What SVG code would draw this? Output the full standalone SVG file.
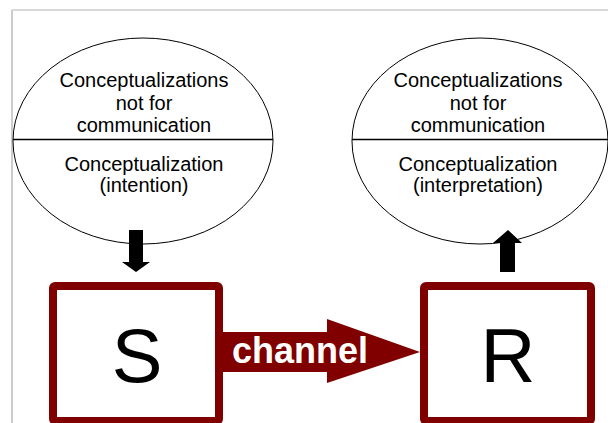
<svg xmlns="http://www.w3.org/2000/svg" width="608" height="423" viewBox="0 0 608 423">
<style>
.frame{stroke:#cccccc;fill:none}
.ell{fill:#ffffff;stroke:#000000;stroke-width:1}
.div{stroke:#000000;stroke-width:1.3}
.t{font-family:"Liberation Sans",Arial,Helvetica,sans-serif;font-size:20px;fill:#000000;text-anchor:middle}
.box{fill:#ffffff;stroke:#800000;stroke-width:8;stroke-linejoin:round}
.big{font-family:"Liberation Sans",Arial,Helvetica,sans-serif;font-size:76px;fill:#000000;text-anchor:middle}
.ch{font-family:"Liberation Sans",Arial,Helvetica,sans-serif;font-size:36px;font-weight:bold;fill:#ffffff}
.blk{fill:#000000}
</style>
<rect width="608" height="423" fill="#ffffff"/>
<line class="frame" x1="12" y1="10" x2="608" y2="10" stroke-width="1.5"/>
<line class="frame" x1="12" y1="10" x2="12" y2="423" stroke-width="2" stroke="#dddddd"/>

<g id="ellipse-sender">
<ellipse class="ell" cx="143" cy="141" rx="130" ry="103"/>
<line class="div" x1="13" y1="139.5" x2="273" y2="139.5"/>
<text class="t" x="144" y="87">Conceptualizations</text>
<text class="t" x="144" y="109.5">not for</text>
<text class="t" x="144" y="132">communication</text>
<text class="t" x="144" y="171">Conceptualization</text>
<text class="t" x="144" y="192">(intention)</text>
</g>

<g id="ellipse-receiver">
<ellipse class="ell" cx="480" cy="141" rx="128" ry="103"/>
<line class="div" x1="352" y1="139.5" x2="608" y2="139.5"/>
<text class="t" x="478" y="87">Conceptualizations</text>
<text class="t" x="478" y="109.5">not for</text>
<text class="t" x="478" y="132">communication</text>
<text class="t" x="478" y="171">Conceptualization</text>
<text class="t" x="478" y="192">(interpretation)</text>
</g>

<g id="node-S">
<rect class="box" x="53" y="286" width="166" height="135" rx="2"/>
<text class="big" x="137" y="382">S</text>
</g>

<g id="node-R">
<rect class="box" x="424" y="286" width="167" height="135" rx="2"/>
<text class="big" x="508" y="382">R</text>
</g>

<g id="connectors">
<polygon class="blk" points="129,230 143,230 143,262 150,262 136,272 122,262 129,262"/>
<polygon class="blk" points="500,272 515,272 515,243 522,243 508,230 493,243 500,243"/>
<polygon fill="#800000" points="219,332 327,332 327,319 420,352 327,383 327,372 219,372"/>
<text class="ch" x="232" y="363">channel</text>
</g>
</svg>
